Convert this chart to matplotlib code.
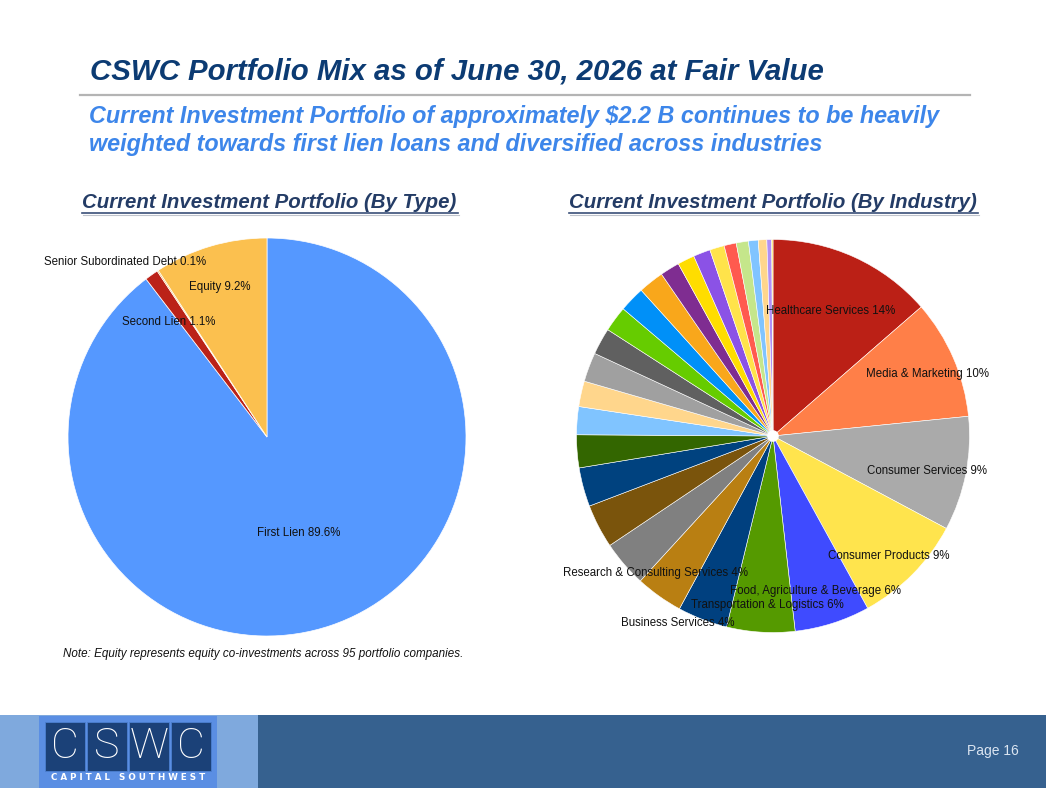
import matplotlib.pyplot as plt
import numpy as np
from matplotlib.patches import Rectangle, Circle

# --- data -------------------------------------------------------------
type_names = ["First Lien", "Second Lien", "Senior Subordinated Debt", "Equity"]
type_share = [89.6, 1.1, 0.1, 9.2]
type_colors = ["#5598ff", "#bb2218", "#e8a020", "#fbc04f"]

industry_names = ["Healthcare Services", "Media & Marketing", "Consumer Services",
                  "Consumer Products", "Food, Agriculture & Beverage",
                  "Transportation & Logistics", "Business Services",
                  "Research & Consulting Services"] + [""] * 21
industry_share = [13.6, 9.8, 9.4, 9.2, 6.2, 5.6, 4.1, 3.9,
                  3.8, 3.6, 3.2, 2.7, 2.3, 2.1, 2.4, 2.2, 2.1, 2.1, 2.1,
                  1.6, 1.4, 1.4, 1.2, 1.0, 1.0, 0.8, 0.7, 0.4, 0.1]
industry_colors = ["#bb2016", "#ff7f48", "#aaaaaa", "#ffe44d", "#3f4bff",
                   "#559a00", "#00407f", "#b97f12", "#808080", "#7a540c",
                   "#00427f", "#336600", "#80c4ff", "#ffd68c", "#a0a0a0",
                   "#606060", "#66cc00", "#0090f8", "#f9a71b", "#7f2d91",
                   "#ffdd00", "#8b52e6", "#ffe34a", "#ff5a4f", "#c5e68b",
                   "#80c4ff", "#ffd68c", "#b090f5", "#ffe34a"]

W, H = 1046, 788
fig = plt.figure(figsize=(W / 100, H / 100), dpi=100)
fig.patch.set_facecolor("white")
bg = fig.add_axes([0, 0, 1, 1])
bg.set_xlim(0, W)
bg.set_ylim(H, 0)
bg.axis("off")

renderer = fig.canvas.get_renderer()


def fit(t, width):
    bb = t.get_window_extent(renderer)
    t.set_fontsize(t.get_fontsize() * width / bb.width)


narrow = ["Liberation Sans Narrow", "Liberation Sans", "DejaVu Sans"]
arial = ["Liberation Sans", "DejaVu Sans"]

# header
t = bg.text(90, 71, "CSWC Portfolio Mix as of June 30, 2026 at Fair Value",
            family=narrow, fontweight="bold", style="italic", fontsize=20,
            color="#0c3b73", va="center", ha="left")
fit(t, 732)
bg.plot([80, 970], [94.5, 94.5], color="#b4b4b4", lw=1.6)

t = bg.text(89, 116, "Current Investment Portfolio of approximately $2.2 B continues to be heavily",
            family=narrow, fontweight="bold", style="italic", fontsize=17,
            color="#3d86ea", va="center", ha="left")
fit(t, 851)
t = bg.text(89, 144, "weighted towards first lien loans and diversified across industries",
            family=narrow, fontweight="bold", style="italic", fontsize=17,
            color="#3d86ea", va="center", ha="left")
fit(t, 734)

for x0, x1, s in [(82, 458, "Current Investment Portfolio (By Type)"),
                  (569, 978, "Current Investment Portfolio (By Industry)")]:
    t = bg.text(x0, 202, s, family=narrow, fontweight="bold", style="italic",
                fontsize=14, color="#243c66", va="center", ha="left")
    fit(t, x1 - x0)
    bg.plot([x0, x1], [213, 213], color="#3a4f78", lw=1.2)
    bg.plot([x0 + 1, x1 + 1], [214.5, 214.5], color="#c0c4cc", lw=0.8)

t = bg.text(63, 654, "Note: Equity represents equity co-investments across 95 portfolio companies.",
            family=arial, style="italic", fontsize=8, color="#111111",
            va="center", ha="left")
fit(t, 401)

# footer
bg.add_patch(Rectangle((0, 715), 258, 73, color="#7fa9dd", lw=0))
bg.add_patch(Rectangle((258, 715), W - 258, 73, color="#36618f", lw=0))
bg.add_patch(Rectangle((39, 716), 178, 72, color="#5a8ee3", lw=0))
for i, ch in enumerate("CSWC"):
    x = 45 + i * 42
    bg.add_patch(Rectangle((x, 722), 40, 49, facecolor="#1b4178",
                           edgecolor="#4b7fd0", lw=0.6))
    bg.text(x + 20, 747, ch, family=["Roboto", "Lato", "DejaVu Sans"],
            fontweight="light", fontsize=31, color="white",
            ha="center", va="center")
t = bg.text(128, 778, "C A P I T A L   S O U T H W E S T", family=["DejaVu Sans"],
            fontweight="bold", fontsize=7, color="white", ha="center", va="center")
fit(t, 156)
bg.text(993, 751, "Page 16", family=arial, fontsize=10, color="#dbe5f1",
        ha="center", va="center")


def pie_axes(cx, cy, r):
    ax = fig.add_axes([(cx - r) / W, (H - cy - r) / H, 2 * r / W, 2 * r / H])
    ax.set_xlim(-1, 1)
    ax.set_ylim(-1, 1)
    ax.axis("off")
    return ax


def put_labels(ax, wedges, texts, place):
    for w, s, p in zip(wedges, texts, place):
        if not s:
            continue
        rr, dang = p
        mid = np.deg2rad((w.theta1 + w.theta2) / 2 - dang)
        ax.annotate(s, (rr * np.cos(mid), rr * np.sin(mid)), xytext=(0, -1.6),
                    textcoords="offset points", family=arial, fontsize=8.3,
                    color="#111111", ha="center", va="center")


# left pie
ax1 = pie_axes(267, 437, 199)
w1, _ = ax1.pie(type_share, colors=type_colors, startangle=90, counterclock=False,
                radius=1, wedgeprops=dict(edgecolor="white", linewidth=0.5))
ax1.set_xlim(-1, 1)
ax1.set_ylim(-1, 1)
lab1 = [f"{n} {v}%" for n, v in zip(type_names, type_share)]
put_labels(ax1, w1, lab1, [(0.5, 0), (0.77, -4.6), (1.14, -5.5), (0.8, -0.7)])

# right pie
ax2 = pie_axes(773, 436, 196.5)
w2, _ = ax2.pie(industry_share, colors=industry_colors, startangle=90,
                counterclock=False, radius=1,
                wedgeprops=dict(edgecolor="white", linewidth=0.4))
ax2.set_xlim(-1, 1)
ax2.set_ylim(-1, 1)
ax2.add_patch(Circle((0, 0), 0.026, color="white", zorder=5))
lab2 = [f"{n} {round(v)}%" if n else "" for n, v in zip(industry_names, industry_share)]
place2 = [(0.71, 0), (0.85, 0.7), (0.8, 1), (0.84, 1), (0.81, 2), (0.85, -1.5),
          (1.06, 6.3), (0.91, 5.8)] + [(0.8, 0)] * 21
put_labels(ax2, w2, lab2, place2)

fig.savefig("out.png", dpi=100)
